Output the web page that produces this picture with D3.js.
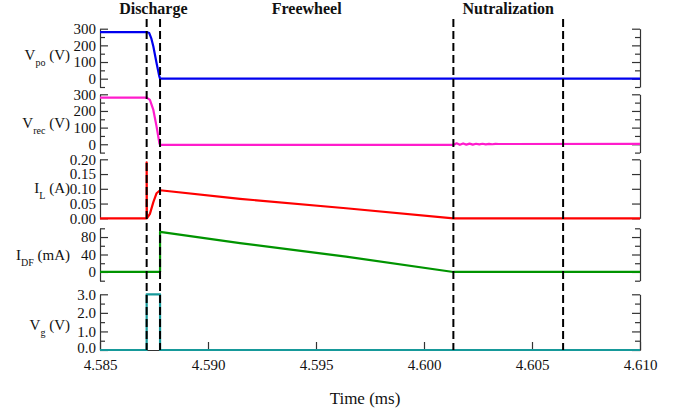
<!DOCTYPE html>
<html>
<head>
<meta charset="utf-8">
<script src="https://cdn.jsdelivr.net/npm/d3@7"></script>
<style>
  body { margin: 0; background: #fff; }
  svg text { font-family: "Liberation Serif", "LiberationSerif", Tinos, "Times New Roman", Times, "DejaVu Serif", serif !important; fill: #111; }
</style>
</head>
<body>
<svg id="chart" width="685" height="412"></svg>
<script>
// time axis (ms)
var timeTicks = [4.585, 4.590, 4.595, 4.600, 4.605, 4.610];
var phaseEdges = [4.58716, 4.58778, 4.60136, 4.60644];
var phaseNames = ["Discharge", "Freewheel", "Nutralization"];

// Vpo (V)
var vpoTime = [4.585, 4.58716, 4.58728, 4.58738, 4.58747, 4.58762, 4.58775, 4.58778, 4.610];
var vpoVal  = [280, 280, 274, 240, 193, 93, 12, 0, 0];
var vpoTicks = [0, 100, 200, 300];
var vpoMinor = [-50, 50, 150, 250];

// Vrec (V)
var vrecTime = [4.585, 4.58716, 4.58731, 4.58747, 4.58762, 4.58775, 4.58778,
                4.60136, 4.60151, 4.60166, 4.60181, 4.60196, 4.60211, 4.60226, 4.60241,
                4.60256, 4.60271, 4.60286, 4.60301, 4.60316, 4.60331, 4.60346, 4.610];
var vrecVal  = [280, 280, 266, 206, 106, 6, -4,
                -4, 6, -3, 5, -2, 4, -2, 3,
                -1, 3, -1, 2, 0, 2, 1.5, 2];
var vrecTicks = [0, 100, 200, 300];
var vrecMinor = [-50, 50, 150, 250];

// IL (A)
var ilTime = [4.585, 4.58716, 4.58716, 4.58717, 4.58731, 4.58747, 4.58762, 4.58778, 4.59148, 4.59639, 4.60136, 4.610];
var ilVal  = [0, 0, 0.19, 0, 0.015, 0.055, 0.085, 0.095, 0.066, 0.034, 0, 0];
var ilTicks = [0, 0.05, 0.10, 0.15, 0.20];

// IDF (mA)
var idfTime = [4.585, 4.58778, 4.58778, 4.59148, 4.59639, 4.60136, 4.610];
var idfVal  = [0, 0, 92, 66, 35, 0, 0];
var idfTicks = [0, 40, 80];
var idfMinor = [-20, 20, 60, 100];

// Vg (V)
var vgTime = [4.585, 4.58716, 4.58716, 4.58778, 4.58778, 4.610];
var vgVal  = [0, 0, 3, 3, 0, 0];
var vgTicks = [0, 1, 2, 3];
var vgMinor = [0.5, 1.5, 2.5];

var svg = d3.select("#chart");
var left = 100, right = 640, bottom = 350;
var serif = "Liberation Serif, Times New Roman, serif";

var x = d3.scaleLinear().domain([4.585, 4.610]).range([left, right]);

var panels = [
  {name: "V", sub: "po", unit: " (V)", domain: [-50, 300], range: [87, 28.7], major: vpoTicks, minor: vpoMinor,
   fmt: d3.format("d"), t: vpoTime, v: vpoVal, color: "#0000ee", labelY: 60},
  {name: "V", sub: "rec", unit: " (V)", domain: [-50, 300], range: [152.6, 94.3], major: vrecTicks, minor: vrecMinor,
   fmt: d3.format("d"), t: vrecTime, v: vrecVal, color: "#ff1ccc", labelY: 128},
  {name: "I", sub: "L", unit: " (A)", domain: [0, 0.2], range: [218.3, 159.3], major: ilTicks, minor: [],
   fmt: d3.format(".2f"), t: ilTime, v: ilVal, color: "#ff0000", labelY: 193},
  {name: "I", sub: "DF", unit: " (mA)", domain: [-20, 100], range: [280.7, 228.3], major: idfTicks, minor: idfMinor,
   fmt: d3.format("d"), t: idfTime, v: idfVal, color: "#009400", labelY: 260},
  {name: "V", sub: "g", unit: " (V)", domain: [0, 3], range: [350, 294.3], major: vgTicks, minor: vgMinor,
   fmt: d3.format(".1f"), t: vgTime, v: vgVal, color: "#16999a", labelY: 330}
];

function styleAxis(g) {
  g.selectAll("path, line").attr("stroke", "#333").attr("stroke-width", 1.2);
  g.attr("font-size", 15).attr("font-family", serif);
  g.selectAll("text").attr("fill", "#111");
}

// x axis
var xg = svg.append("g").attr("transform", "translate(0," + bottom + ")")
  .call(d3.axisBottom(x).tickValues(timeTicks).tickFormat(d3.format(".3f"))
        .tickSize(-8).tickSizeOuter(0).tickPadding(9));
styleAxis(xg);

panels.forEach(function(p, pi) {
  var y = d3.scaleLinear().domain(p.domain).range(p.range);

  var lg = svg.append("g").attr("transform", "translate(" + left + ",0)")
    .call(d3.axisLeft(y).tickValues(p.major).tickFormat(p.fmt).tickSize(-8).tickSizeOuter(0).tickPadding(4));
  lg.append("g").call(d3.axisLeft(y).tickValues(p.minor).tickFormat("").tickSize(-5))
    .select(".domain").remove();
  styleAxis(lg);
  // lift the bottom label of the last panel a little off the time labels
  if (pi === panels.length - 1) {
    lg.selectAll(".tick text").filter(function(d) { return d === 0; }).attr("dy", "0.15em");
  }

  var rg = svg.append("g").attr("transform", "translate(" + right + ",0)")
    .call(d3.axisRight(y).tickValues(p.major).tickFormat("").tickSize(-8).tickSizeOuter(0));
  rg.append("g").call(d3.axisRight(y).tickValues(p.minor).tickFormat("").tickSize(-5))
    .select(".domain").remove();
  styleAxis(rg);

  // label with subscript
  var lab = svg.append("text").attr("x", 70).attr("y", p.labelY)
    .attr("text-anchor", "end").attr("font-size", 15).attr("font-family", serif);
  lab.append("tspan").text(p.name);
  lab.append("tspan").attr("font-size", 10).attr("dy", 6).text(p.sub);
  lab.append("tspan").attr("dy", -6).text(p.unit);

  var pts = p.t.map(function(d, i) { return [d, p.v[i]]; });
  var line = d3.line().x(function(d) { return x(d[0]); }).y(function(d) { return y(d[1]); });
  svg.append("path").attr("d", line(pts))
    .attr("fill", "none").attr("stroke", p.color).attr("stroke-width", 2.2)
    .attr("stroke-linejoin", "round");
});

// phase boundaries
svg.selectAll(".phase-line").data(phaseEdges).enter().append("line")
  .attr("class", "phase-line")
  .attr("x1", function(d) { return x(d); }).attr("x2", function(d) { return x(d); })
  .attr("y1", 19).attr("y2", bottom)
  .attr("stroke", "#000").attr("stroke-width", 2).attr("stroke-dasharray", "8,4");

// phase titles
svg.selectAll(".phase-title").data(phaseNames).enter().append("text")
  .attr("class", "phase-title")
  .attr("x", function(d, i) { return (x(phaseEdges[i]) + x(phaseEdges[i + 1])) / 2; })
  .attr("y", 14).attr("text-anchor", "middle")
  .attr("font-size", 16).attr("font-weight", "bold").attr("font-family", serif)
  .text(function(d) { return d; });

svg.append("text").attr("x", 365).attr("y", 404).attr("text-anchor", "middle")
  .attr("font-size", 17).attr("font-family", serif).text("Time (ms)");
</script>
</body>
</html>
